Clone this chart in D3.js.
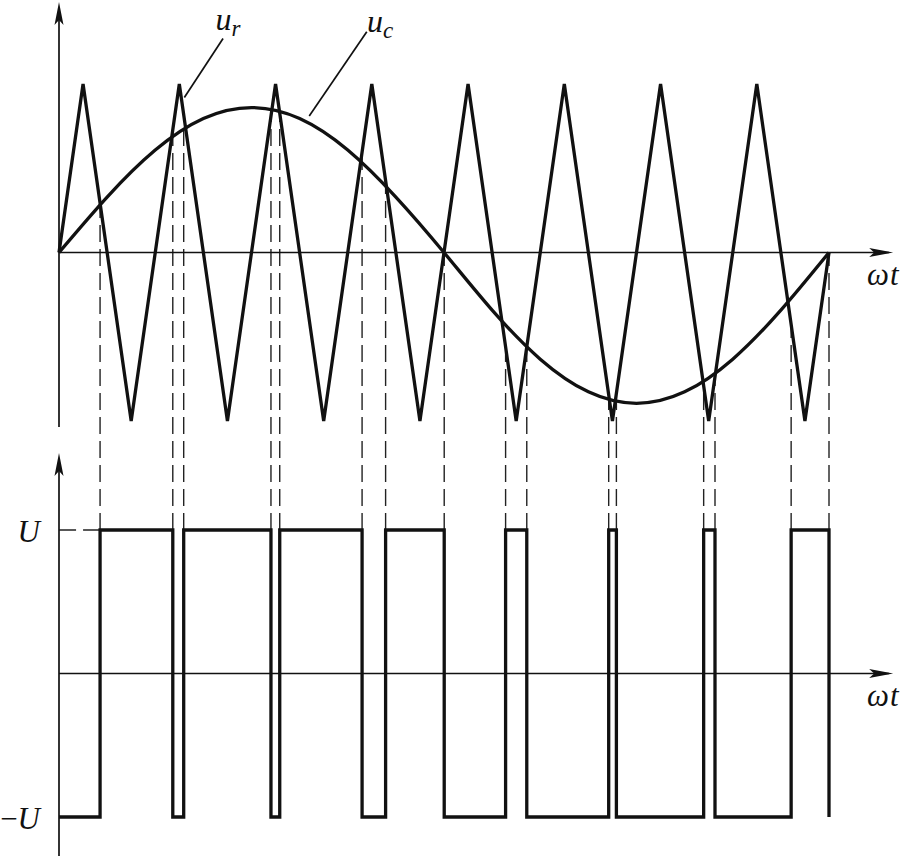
<!DOCTYPE html>
<html><head><meta charset="utf-8">
<script src="https://cdn.jsdelivr.net/npm/d3@7/dist/d3.min.js"></script>
<style>body{margin:0;background:#fff}svg{display:block}</style>
</head><body><svg id="c" width="900" height="856"></svg>
<script>
// ---- data (angles in degrees) ----
const carrierAngles = [0, 11.25, 33.75, 56.25, 78.75, 101.25, 123.75, 146.25, 168.75, 191.25, 213.75, 236.25, 258.75, 281.25, 303.75, 326.25, 348.75, 360];
const carrierValues = [0, 1, -1, 1, -1, 1, -1, 1, -1, 1, -1, 1, -1, 1, -1, 1, -1, 0];
const sineAngles = [0, 22.5, 45, 67.5, 90, 112.5, 135, 157.5, 180, 202.5, 225, 247.5, 270, 292.5, 315, 337.5, 360];
const sineValues = [0, 0.329, 0.608, 0.795, 0.86, 0.795, 0.608, 0.329, 0, -0.342, -0.633, -0.827, -0.895, -0.827, -0.633, -0.342, 0];
const switchAngles = [19.2, 53.2, 58.3, 99.1, 103.2, 141.7, 152.7, 180.1, 208.8, 218.7, 257.0, 260.6, 301.4, 306.7, 342.3, 360];
const pwmAngles = [0, 19.2, 53.2, 58.3, 99.1, 103.2, 141.7, 152.7, 180.1, 208.8, 218.7, 257.0, 260.6, 301.4, 306.7, 342.3, 360];
const pwmLevels = [-1, 1, -1, 1, -1, 1, -1, 1, -1, 1, -1, 1, -1, 1, -1, 1, -1];
const levelTicks = [1, -1];
const levelLabels = ["U", "U"];
const axisTitle = ["ω", "t"];
const seriesNames = [["u", "r"], ["u", "c"]];

// ---- layout ----
const svg = d3.select("#c");
svg.append("rect").attr("width", 900).attr("height", 856).attr("fill", "#fff");
const x = d3.scaleLinear().domain([0, 360]).range([59, 829]);
const yTop = d3.scaleLinear().domain([-1, 1]).range([421, 84]);
const yBot = d3.scaleLinear().domain([-1, 1]).range([817, 530]);
const FONT = "'Liberation Serif','DejaVu Serif',serif";

function arrowUp(g, px, py) {
  g.append("path").attr("d", `M${px},${py} L${px - 4.5},${py + 23} L${px},${py + 18} L${px + 4.5},${py + 23} Z`).attr("fill", "#111");
}
function arrowRight(g, px, py) {
  g.append("path").attr("d", `M${px},${py} L${px - 24},${py - 4.5} L${px - 19},${py} L${px - 24},${py + 4.5} Z`).attr("fill", "#111");
}

// carrier value at a given angle (linear between vertices)
function carrierAt(a) {
  for (let i = 0; i < carrierAngles.length - 1; i++) {
    if (a >= carrierAngles[i] && a <= carrierAngles[i + 1]) {
      const t = (a - carrierAngles[i]) / (carrierAngles[i + 1] - carrierAngles[i]);
      return carrierValues[i] + t * (carrierValues[i + 1] - carrierValues[i]);
    }
  }
  return 0;
}

// ---- dashed projection lines ----
const gd = svg.append("g").attr("stroke", "#222").attr("stroke-width", 1.4).attr("stroke-dasharray", "17,7").attr("fill", "none");
switchAngles.forEach(a => {
  gd.append("line")
    .attr("x1", x(a)).attr("x2", x(a))
    .attr("y1", yBot(1)).attr("y2", yTop(carrierAt(a)));
});
gd.append("line").attr("x1", x(switchAngles[0])).attr("x2", x(0)).attr("y1", yBot(1)).attr("y2", yBot(1));

// ---- axes ----
const ga = svg.append("g").attr("stroke", "#111").attr("stroke-width", 1.7).attr("fill", "none");
ga.append("line").attr("x1", x(0)).attr("x2", x(0)).attr("y1", yTop(-1.036)).attr("y2", yTop(1.45));
ga.append("line").attr("x1", x(0)).attr("x2", x(388)).attr("y1", yTop(0)).attr("y2", yTop(0));
arrowUp(svg, x(0), yTop(1.486));
arrowRight(svg, x(390), yTop(0));
ga.append("line").attr("x1", x(0)).attr("x2", x(0)).attr("y1", yBot(-1.3)).attr("y2", yBot(1.5));
ga.append("line").attr("x1", x(0)).attr("x2", x(388)).attr("y1", yBot(0)).attr("y2", yBot(0));
arrowUp(svg, x(0), yBot(1.537));
arrowRight(svg, x(390), yBot(0));

// ---- carrier (triangle) ----
const carrier = carrierAngles.map((a, i) => [a, carrierValues[i]]);
svg.append("path").datum(carrier)
  .attr("d", d3.line().x(d => x(d[0])).y(d => yTop(d[1])))
  .attr("fill", "none").attr("stroke", "#111").attr("stroke-width", 3.3).attr("stroke-linejoin", "miter").attr("stroke-miterlimit", 4);

// ---- modulating sine ----
const sine = sineAngles.map((a, i) => [a, sineValues[i]]);
svg.append("path").datum(sine)
  .attr("d", d3.line().x(d => x(d[0])).y(d => yTop(d[1])).curve(d3.curveNatural))
  .attr("fill", "none").attr("stroke", "#111").attr("stroke-width", 3.3);

// ---- PWM output ----
const pwm = pwmAngles.map((a, i) => [a, pwmLevels[i]]);
svg.append("path").datum(pwm)
  .attr("d", d3.line().x(d => x(d[0])).y(d => yBot(d[1])).curve(d3.curveStepAfter))
  .attr("fill", "none").attr("stroke", "#111").attr("stroke-width", 3.3).attr("stroke-linejoin", "miter");

// ---- leader lines & series labels ----
const gl = svg.append("g").attr("stroke", "#111").attr("stroke-width", 1.7);
gl.append("line").attr("x1", x(76.7)).attr("y1", yTop(1.27)).attr("x2", x(58.6)).attr("y2", yTop(0.92));
gl.append("line").attr("x1", x(143.9)).attr("y1", yTop(1.31)).attr("x2", x(117.0)).attr("y2", yTop(0.81));

function subLabel(px, py, parts) {
  const t = svg.append("text").attr("x", px).attr("y", py)
    .attr("font-family", FONT).attr("font-style", "italic").attr("font-size", 32).attr("fill", "#111");
  t.append("tspan").text(parts[0]);
  t.append("tspan").attr("dy", 6).attr("font-size", 23).text(parts[1]);
}
subLabel(x(73.2), yTop(1.32), seriesNames[0]);
subLabel(x(144.0), yTop(1.31), seriesNames[1]);

// ---- axis titles ----
[yTop(0) + 32, yBot(0) + 32].forEach(py => {
  const t = svg.append("text").attr("x", 867).attr("y", py)
    .attr("font-family", FONT).attr("font-style", "italic").attr("font-size", 31).attr("fill", "#111");
  t.append("tspan").text(axisTitle[0]);
  t.append("tspan").attr("dx", 1).text(axisTitle[1]);
});

// ---- level labels ----
levelTicks.forEach((v, i) => {
  const t = svg.append("text").attr("x", x(0) - 19).attr("y", yBot(v) + 12)
    .attr("text-anchor", "end")
    .attr("font-family", FONT).attr("font-size", 31).attr("fill", "#111");
  if (v < 0) t.append("tspan").text("\u2212");
  t.append("tspan").attr("font-style", "italic").text(levelLabels[i]);
});
</script>
</body></html>
